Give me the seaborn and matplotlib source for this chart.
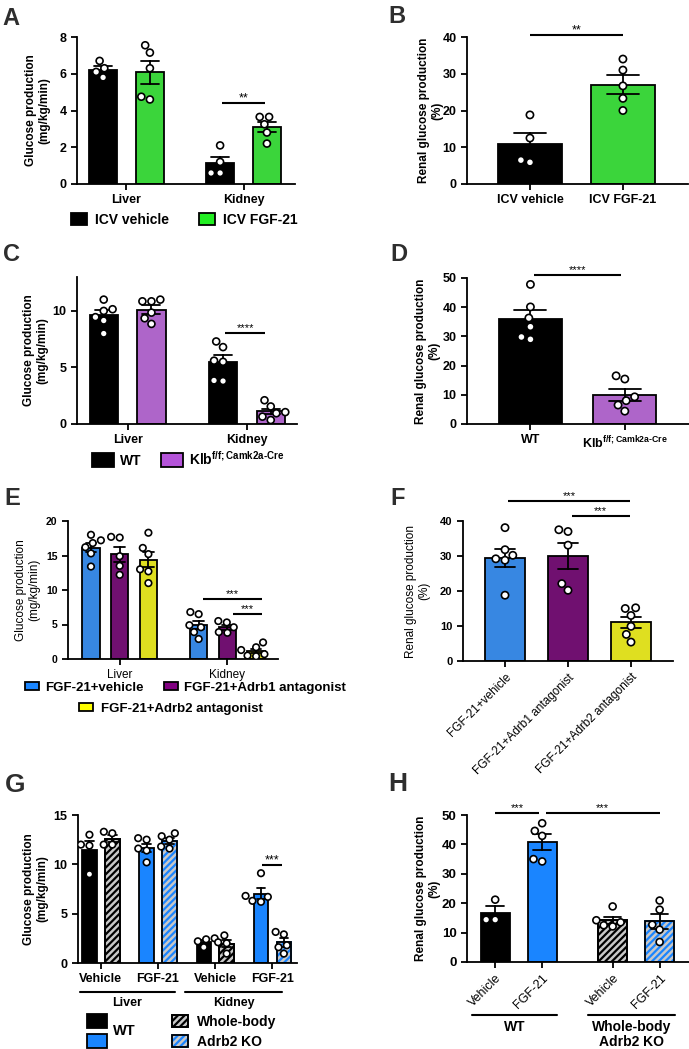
import numpy as np
import pandas as pd
import matplotlib
matplotlib.use("Agg")
import matplotlib.pyplot as plt
import matplotlib.transforms as mtransforms
import seaborn as sns
from matplotlib.patches import Patch, Rectangle
from matplotlib.legend_handler import HandlerTuple

# ---------------- data ----------------
tissues = ["Liver", "Kidney"]

a_groups = ["ICV vehicle", "ICV FGF-21"]
a_liver_vehicle = [6.3, 6.7, 5.8, 6.1]
a_liver_fgf = [7.55, 7.15, 6.3, 4.6, 4.75]
a_kidney_vehicle = [2.1, 1.2, 0.6, 0.6]
a_kidney_fgf = [3.65, 3.65, 3.25, 2.8, 2.2]

b_groups = ["ICV vehicle", "ICV FGF-21"]
b_vehicle = [18.8, 12.5, 5.9, 6.5]
b_fgf = [34.0, 31.0, 26.7, 23.3, 20.0]

c_groups = ["WT", "Klb"]
c_labels = ["WT", "Klb$^{\\mathbf{f/f;Camk2a\u2010Cre}}$"]
c_liver_wt = [11.0, 10.15, 10.0, 9.45, 9.15, 8.0]
c_liver_klb = [10.85, 11.0, 10.85, 9.85, 8.85, 9.35]
c_kidney_wt = [7.3, 6.8, 5.5, 5.6, 3.8, 3.85]
c_kidney_klb = [2.1, 1.05, 0.95, 1.55, 0.35, 0.65]

d_wt = [47.8, 40.1, 36.3, 33.3, 29.0, 29.8]
d_klb = [15.4, 16.5, 9.3, 8.0, 6.5, 4.4]

e_groups = ["FGF-21+vehicle", "FGF-21+Adrb1 antagonist", "FGF-21+Adrb2 antagonist"]
e_liver_veh = [18.0, 17.2, 16.8, 16.2, 15.3, 13.4]
e_liver_adrb1 = [17.7, 17.6, 14.9, 13.5, 12.2]
e_liver_adrb2 = [18.3, 16.1, 15.2, 13.0, 12.7, 11.0]
e_kidney_veh = [6.8, 6.5, 4.9, 4.6, 3.9, 2.9]
e_kidney_adrb1 = [5.5, 5.3, 4.6, 3.9, 3.8]
e_kidney_adrb2 = [2.4, 1.7, 1.3, 0.7, 0.5, 0.4]

f_veh = [38.1, 31.8, 30.2, 28.8, 29.2, 18.8]
f_adrb1 = [37.5, 37.0, 33.1, 22.1, 20.2]
f_adrb2 = [15.0, 15.2, 13.0, 9.9, 7.6, 5.4]

g_treatments = ["Vehicle", "FGF-21", "Vehicle", "FGF-21"]
g_tissues = ["Liver", "Liver", "Kidney", "Kidney"]
g_genotypes = ["WT", "Whole-body Adrb2 KO"]
g_liver_veh_wt = [13.0, 12.0, 11.9, 9.0]
g_liver_veh_ko = [13.15, 13.3, 12.0, 12.0]
g_liver_fgf_wt = [12.65, 12.5, 11.6, 11.4, 10.2]
g_liver_fgf_ko = [13.15, 12.85, 12.5, 11.8, 11.6]
g_kidney_veh_wt = [2.5, 2.4, 2.2, 1.6]
g_kidney_veh_ko = [2.8, 2.1, 2.0, 0.95]
g_kidney_fgf_wt = [9.1, 6.8, 6.7, 6.3, 6.2]
g_kidney_fgf_ko = [3.15, 2.9, 1.8, 1.6, 0.95]

h_genotypes = ["WT", "Whole-body\nAdrb2 KO"]
h_treatments = ["Vehicle", "FGF-21"]
h_wt_veh = [21.2, 14.4, 14.4]
h_wt_fgf = [47.2, 42.9, 44.6, 34.2, 35.0]
h_ko_veh = [18.9, 14.2, 13.5, 12.1, 12.5]
h_ko_fgf = [20.9, 17.8, 12.7, 11.0, 6.8]

# ---------------- style ----------------
BLACK = "#000000"
GREEN = "#22ee22"
ORCHID = "#b554da"
BLUE = "#1a85ff"
PURPLE = "#800080"
YELLOW = "#ffff00"
HATCH_BG = "#c8c8c8"
LETTER = "#2e2e2e"
HATCH = "/////"

sns.set_style("ticks", rc={"axes.edgecolor": "k", "xtick.color": "k", "ytick.color": "k",
                           "text.color": "k", "axes.labelcolor": "k"})
plt.rcParams["font.family"] = ["Liberation Sans", "DejaVu Sans"]
plt.rcParams["mathtext.fontset"] = "custom"
plt.rcParams["mathtext.bf"] = "Liberation Sans:bold"
plt.rcParams["mathtext.rm"] = "Liberation Sans"
plt.rcParams["hatch.linewidth"] = 1.6

W, H = 689, 1049
fig = plt.figure(figsize=(W / 100, H / 100), dpi=100)


def add_ax(x0, y0, x1, y1):
    return fig.add_axes([x0 / W, 1 - y1 / H, (x1 - x0) / W, (y1 - y0) / H])


def frame(x_levels, hue_levels, values):
    rows = []
    k = 0
    for x in x_levels:
        for h in hue_levels:
            for v in values[k]:
                rows.append((x, h, v))
            k += 1
    return pd.DataFrame(rows, columns=["x", "hue", "y"])


def draw(ax, df, palette, width=0.8, gap=0.0, dodge=True, capsize=0.3, msize=5.0, recolor=None):
    order = list(dict.fromkeys(df["x"]))
    hue_order = list(dict.fromkeys(df["hue"]))
    sns.barplot(data=df, x="x", y="y", hue="hue", order=order, hue_order=hue_order,
                palette=palette, width=width, gap=gap, dodge=dodge, errorbar="se",
                capsize=capsize, err_kws={"color": "k", "linewidth": 1.3},
                edgecolor="k", linewidth=1.3, legend=False, ax=ax)
    if recolor is not None:
        recolor(ax)
    sns.swarmplot(data=df, x="x", y="y", hue="hue", order=order, hue_order=hue_order,
                  palette=["white"] * len(hue_order), dodge=dodge, size=msize,
                  edgecolor="k", linewidth=1.2, legend=False, ax=ax, zorder=3)


def finish(ax, ylim, yticks, ylabel, label_off, xlim, ylab_weight="bold", ylab_size=8.5,
           ytick_size=9):
    ax.set_ylim(*ylim)
    ax.set_xlim(*xlim)
    ax.set_yticks(yticks, labels=[str(v) for v in yticks], fontsize=ytick_size, fontweight="bold")
    ax.set_xlabel("")
    sns.despine(ax=ax)
    for s in ("left", "bottom"):
        ax.spines[s].set_linewidth(1.3)
    ax.tick_params(axis="both", width=1.3, length=4, color="k")
    ax.set_ylabel(ylabel, fontsize=ylab_size, fontweight=ylab_weight, linespacing=1.15)
    wpx = ax.get_position().width * W
    ax.yaxis.set_label_coords(-label_off / wpx, 0.5)


def xlabels(ax, positions, labels, size=9, weight="bold", rotation=0):
    if rotation:
        ax.set_xticks(positions, labels=labels, fontsize=size, fontweight=weight,
                      rotation=rotation, ha="right", rotation_mode="anchor")
    else:
        ax.set_xticks(positions, labels=labels, fontsize=size, fontweight=weight)


def sig(ax, x0, x1, y, text, size=9):
    ax.plot([x0, x1], [y, y], color="k", lw=1.5, clip_on=False, solid_capstyle="butt")
    ax.annotate(text, xy=((x0 + x1) / 2, y), xytext=(0, 1.2), textcoords="offset points",
                ha="center", va="baseline", fontsize=size, annotation_clip=False)


def letter(x, y, s, size=17):
    fig.text(x / W, 1 - y / H, s, fontsize=size, fontweight="bold", color=LETTER,
             ha="left", va="top")


def legend(handles, labels, cx, cy, fs, hl, hh, ncol=1, cs=2.0, ls=0.5, tp=0.6,
           loc="center", **kw):
    lg = fig.legend(handles=handles, labels=labels, loc=loc, bbox_to_anchor=(cx / W, 1 - cy / H),
                    ncol=ncol, frameon=False, prop={"size": fs, "weight": "bold"},
                    handlelength=hl, handleheight=hh, columnspacing=cs, labelspacing=ls,
                    handletextpad=tp, borderpad=0, borderaxespad=0, **kw)
    return lg


def box(c):
    return Patch(facecolor=c, edgecolor="k", linewidth=1.3)


def hatch_box(c):
    return (Patch(facecolor=HATCH_BG, edgecolor=c, hatch=HATCH, linewidth=1.3),
            Patch(facecolor="none", edgecolor="k", linewidth=1.3))


def hatch_bar(ax, bar, stripe):
    bar.set_facecolor(HATCH_BG)
    bar.set_edgecolor(stripe)
    bar.set_hatch(HATCH)
    ax.add_patch(Rectangle(bar.get_xy(), bar.get_width(), bar.get_height(), fill=False,
                           edgecolor="k", linewidth=1.3, zorder=bar.get_zorder() + 0.1))


# ---------------- Panel A ----------------
axA = add_ax(77, 37, 295, 184)
dfA = frame(tissues, a_groups, [a_liver_vehicle, a_liver_fgf, a_kidney_vehicle, a_kidney_fgf])
draw(axA, dfA, [BLACK, GREEN], gap=0.4)
finish(axA, (0, 8), [0, 2, 4, 6, 8], "Glucose production\n(mg/kg/min)", 26.5, (-0.423, 1.44))
xlabels(axA, [0, 1], tissues)
sig(axA, 0.82, 1.18, 4.4, "**")
legend([box(BLACK), box(GREEN)], a_groups, 184.5, 220, 10, 1.1, 0.95, ncol=2, cs=2.2)
letter(2, 7, "A")

# ---------------- Panel B ----------------
axB = add_ax(467, 37, 688, 184)
dfB = frame(b_groups, [None], [b_vehicle, b_fgf])
dfB["hue"] = dfB["x"]
draw(axB, dfB, [BLACK, GREEN], width=0.69, dodge=False, capsize=0.34, msize=5.2)
finish(axB, (0, 40), [0, 10, 20, 30, 40], "Renal glucose production\n(%)", 23.5, (-0.677, 1.70))
xlabels(axB, [0, 1], b_groups)
sig(axB, 0.0, 1.0, 40.5, "**")
letter(388, 5, "B")

# ---------------- Panel C ----------------
axC = add_ax(77, 277, 297, 424)
dfC = frame(tissues, c_groups, [c_liver_wt, c_liver_klb, c_kidney_wt, c_kidney_klb])
draw(axC, dfC, [BLACK, ORCHID], gap=0.41)
finish(axC, (0, 13), [0, 5, 10], "Glucose production\n(mg/kg/min)", 28.5, (-0.424, 1.42))
xlabels(axC, [0, 1], tissues)
sig(axC, 0.82, 1.15, 8.05, "****", size=8)
legend([box(BLACK), box(ORCHID)], c_labels, 188, 459, 10, 1.6, 1.15, ncol=2, cs=1.4, tp=0.4)
letter(3, 243, "C")

# ---------------- Panel D ----------------
axD = add_ax(467, 278, 689, 424)
dfD = frame(c_groups, [None], [d_wt, d_klb])
dfD["hue"] = dfD["x"]
draw(axD, dfD, [BLACK, ORCHID], width=0.667, dodge=False, capsize=0.34, msize=5.2)
finish(axD, (0, 50), [0, 10, 20, 30, 40, 50], "Renal glucose production\n(%)", 26.5, (-0.672, 1.68))
xlabels(axD, [0, 1], c_labels)
sig(axD, 0.04, 0.96, 51.0, "****", size=8)
letter(390, 243, "D")

# ---------------- Panel E ----------------
axE = add_ax(68, 521, 278, 659)
dfE = frame(tissues, e_groups, [e_liver_veh, e_liver_adrb1, e_liver_adrb2,
                                e_kidney_veh, e_kidney_adrb1, e_kidney_adrb2])
draw(axE, dfE, [BLUE, PURPLE, YELLOW], gap=0.39, msize=4.7)
finish(axE, (0, 20), [0, 5, 10, 15, 20], "Glucose production\n(mg/kg/min)", 27.5, (-0.48, 1.47),
       ylab_weight="normal", ylab_size=8.5, ytick_size=7.5)
xlabels(axE, [0, 1], tissues, size=8.5, weight="normal")
sig(axE, 0.77, 1.32, 8.7, "***", size=8)
sig(axE, 1.05, 1.32, 6.5, "***", size=8)
legend([box(BLUE), box(PURPLE)], e_groups[:2], 185.5, 688, 9.5, 1.05, 0.55, ncol=2, cs=1.5, tp=0.5)
legend([box(YELLOW)], e_groups[2:], 171, 709, 9.5, 1.05, 0.55, tp=0.6)
letter(4, 487, "E")

# ---------------- Panel F ----------------
axF = add_ax(463, 521, 673, 661)
dfF = frame(e_groups, [None], [f_veh, f_adrb1, f_adrb2])
dfF["hue"] = dfF["x"]
draw(axF, dfF, [BLUE, PURPLE, YELLOW], width=0.635, dodge=False, capsize=0.32, msize=5.2)
finish(axF, (0, 40), [0, 10, 20, 30, 40], "Renal glucose production\n(%)", 32.5, (-0.667, 2.667),
       ylab_weight="normal", ytick_size=8)
xlabels(axF, [0, 1, 2], e_groups, size=8.5, weight="normal", rotation=45)
sig(axF, 0.05, 1.98, 45.7, "***", size=8)
sig(axF, 1.06, 1.98, 41.4, "***", size=8)
letter(390, 487, "F")

# ---------------- Panel G ----------------
axG = add_ax(78, 815, 297, 963)
g_keys = [f"{t} {tr}" for t, tr in zip(g_tissues, g_treatments)]
dfG = frame(g_keys, g_genotypes, [g_liver_veh_wt, g_liver_veh_ko, g_liver_fgf_wt, g_liver_fgf_ko,
                                  g_kidney_veh_wt, g_kidney_veh_ko, g_kidney_fgf_wt, g_kidney_fgf_ko])


def recolor_g(ax):
    for gi, cont in enumerate(ax.containers):
        for bar in cont:
            idx = int(round(bar.get_x() + bar.get_width() / 2))
            col = BLACK if g_treatments[idx] == "Vehicle" else BLUE
            if gi == 0:
                bar.set_facecolor(col)
            else:
                hatch_bar(ax, bar, col)


draw(axG, dfG, [BLACK, HATCH_BG], gap=0.37, msize=4.7, recolor=recolor_g)
finish(axG, (0, 15), [0, 5, 10, 15], "Glucose production\n(mg/kg/min)", 29.5, (-0.40, 3.43))
xlabels(axG, [0, 1, 2, 3], g_treatments)
sig(axG, 2.82, 3.17, 9.93, "***")
trG = mtransforms.blended_transform_factory(axG.transData, axG.transAxes)
for (x0, x1), name in zip([(-0.37, 1.29), (1.48, 3.16)], tissues):
    axG.plot([x0, x1], [-0.196, -0.196], color="k", lw=1.5, transform=trG, clip_on=False)
    axG.text((x0 + x1) / 2, -0.27, name, transform=trG, ha="center", va="center",
             fontsize=9, fontweight="bold")
legend([box(BLACK), box(BLUE)], ["", ""], 97, 1031.5, 10, 1.45, 1.15, ls=0.36, tp=0.0)
fig.text(113 / W, 1 - 1031 / H, "WT", fontsize=10.5, fontweight="bold", ha="left", va="center")
legend([hatch_box(BLACK), hatch_box(BLUE)], ["Whole-body", "Adrb2 KO"], 172, 1032, 10, 1.15, 0.95,
       ls=0.43, tp=0.65, loc="center left", handler_map={tuple: HandlerTuple(ndivide=1)})
letter(5, 773, "G", size=19)

# ---------------- Panel H ----------------
axH = add_ax(467, 815, 689, 962)
dfH = frame(h_genotypes, h_treatments, [h_wt_veh, h_wt_fgf, h_ko_veh, h_ko_fgf])


def recolor_h(ax):
    for ti, cont in enumerate(ax.containers):
        col = BLACK if h_treatments[ti] == "Vehicle" else BLUE
        for bar in cont:
            idx = int(round(bar.get_x() + bar.get_width() / 2))
            if idx == 0:
                bar.set_facecolor(col)
            else:
                hatch_bar(ax, bar, col)


draw(axH, dfH, [BLACK, BLUE], gap=0.39, recolor=recolor_h)
finish(axH, (0, 50), [0, 10, 20, 30, 40, 50], "Renal glucose production\n(%)", 26.5, (-0.44, 1.45),
       ytick_size=9.5)
centers = sorted(p.get_x() + p.get_width() / 2 for c in axH.containers for p in c)
xlabels(axH, centers, h_treatments * 2, size=9, weight="normal", rotation=45)
sig(axH, -0.2, 0.17, 50.7, "***", size=8)
sig(axH, 0.23, 1.2, 50.7, "***", size=8)
trH = mtransforms.blended_transform_factory(axH.transData, axH.transAxes)
for (x0, x1), name in zip([(-0.40, 0.33), (0.59, 1.33)], h_genotypes):
    axH.plot([x0, x1], [-0.36, -0.36], color="k", lw=1.5, transform=trH, clip_on=False)
    axH.text((x0 + x1) / 2, -0.395, name, transform=trH, ha="center", va="top",
             fontsize=10, fontweight="bold", linespacing=1.1)
letter(388, 772, "H", size=19)

fig.savefig("out.png", dpi=100)
